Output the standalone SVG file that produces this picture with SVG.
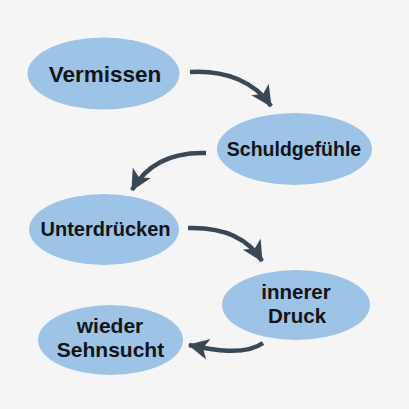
<svg xmlns="http://www.w3.org/2000/svg" width="409" height="409" viewBox="0 0 409 409">
<style>
.n{fill:#9dc3e6;}
.t{font-family:"Liberation Sans",Arial,sans-serif;font-weight:bold;fill:#121417;text-anchor:middle;}
.c{fill:none;stroke:#3a4856;stroke-width:4.5;stroke-linecap:butt;}
</style>
<defs>
<marker id="ah" viewBox="0 0 20 20" markerWidth="22" markerHeight="22" markerUnits="userSpaceOnUse" refX="18" refY="10" orient="auto">
<path d="M0,0.5 L19,10 L0,19.5 L5,10 z" fill="#3a4856"/>
</marker>
</defs>
<rect width="409" height="409" fill="#f5f5f5"/>
<g id="connectors">
<path class="c" d="M190,72 C226,70 255,82 271,106" marker-end="url(#ah)"/>
<path class="c" d="M206,153 C175,152 148,162 132,190" marker-end="url(#ah)"/>
<path class="c" d="M188,228 C222,227 248,238 262,261" marker-end="url(#ah)"/>
<path class="c" d="M263,343 C245,356 212,350 189,345" marker-end="url(#ah)"/>
</g>
<g id="vermissen">
<ellipse class="n" cx="103.5" cy="73.5" rx="76" ry="36"/>
<text class="t" x="105" y="81.5" font-size="22.5">Vermissen</text>
</g>
<g id="schuldgefuehle">
<ellipse class="n" cx="294.5" cy="149" rx="77.5" ry="36"/>
<text class="t" x="294" y="155.5" font-size="19.5">Schuldgefühle</text>
</g>
<g id="unterdruecken">
<ellipse class="n" cx="104" cy="229.5" rx="75" ry="35.5"/>
<text class="t" x="105.5" y="235.5" font-size="20">Unterdrücken</text>
</g>
<g id="innerer-druck">
<ellipse class="n" cx="296" cy="305" rx="74" ry="35"/>
<text class="t" x="296" y="299" font-size="20.5">innerer</text>
<text class="t" x="297" y="323" font-size="20.5">Druck</text>
</g>
<g id="wieder-sehnsucht">
<ellipse class="n" cx="110.5" cy="340" rx="72.5" ry="35"/>
<text class="t" x="110" y="333" font-size="21">wieder</text>
<text class="t" x="110.5" y="357" font-size="21">Sehnsucht</text>
</g>
</svg>
